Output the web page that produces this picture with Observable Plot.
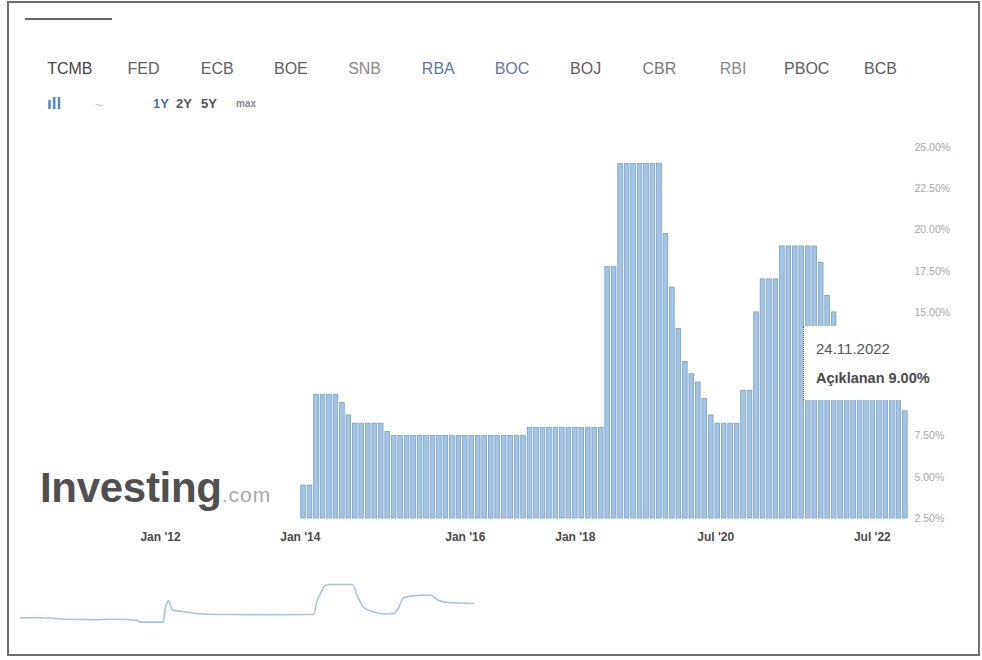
<!DOCTYPE html>
<html>
<head>
<meta charset="utf-8">
<script src="https://cdn.jsdelivr.net/npm/d3@7"></script>
<script src="https://cdn.jsdelivr.net/npm/@observablehq/plot@0.6"></script>
<style>
  body { margin: 0; background: #fff; font-family: "Liberation Sans", Arial, sans-serif; }
  #wrap { position: relative; width: 982px; height: 660px; overflow: hidden; background: #fff; }
  .frame { position: absolute; left: 7px; top: 1px; width: 973px; height: 655px; box-sizing: border-box; border: 2px solid #6e6e6e; }
  .activebar { position: absolute; left: 25px; top: 18px; width: 87px; height: 2px; background: #666; }
  .tabs { position: absolute; left: 33px; top: 60px; display: flex; }
  .tabs span { display: block; width: 73.7px; text-align: center; font-size: 16px; color: #5a5a5a; }
  .row2 { position: absolute; top: 96px; left: 0; height: 20px; }
  .row2 span { position: absolute; white-space: nowrap; font-weight: bold; }
  .logo { position: absolute; left: 40px; top: 464px; white-space: nowrap; }
  .logo .big { font-size: 42px; font-weight: bold; color: #505050; letter-spacing: -0.3px; }
  .logo .small { font-size: 21px; color: #a8a8a8; letter-spacing: 1px; }
  .tip { position: absolute; left: 803px; top: 326px; width: 152px; height: 74px; background: rgba(255,255,255,0.985); border-left: 1px dotted #555; box-sizing: border-box; }
  .tip .d { position: absolute; left: 12px; top: 14px; font-size: 15px; color: #555; }
  .tip .v { position: absolute; left: 12px; top: 44px; font-size: 14.5px; font-weight: bold; color: #4a4a4a; white-space: nowrap; }
  #main { position: absolute; left: 0; top: 130px; }
  #nav { position: absolute; left: 0; top: 560px; }
</style>
</head>
<body>
<div id="wrap">
  <div class="activebar"></div>
  <div class="tabs" id="tabs"></div>
  <div class="row2">
    <span style="left:47px;top:-2px;color:#4f86c6;font-size:17px;">ıll</span>
    <span style="left:95px;color:#c8c8c8;font-size:15px;font-weight:normal;">~</span>
    <span style="left:153px;color:#4a6fa5;font-size:13px;">1Y</span>
    <span style="left:176px;color:#555;font-size:13px;">2Y</span>
    <span style="left:201px;color:#555;font-size:13px;">5Y</span>
    <span style="left:236px;top:2px;color:#888;font-size:10px;">max</span>
  </div>
  <div class="logo"><span class="big">Investing</span><span class="small">.com</span></div>
  <div id="main"></div>
  <div id="nav"></div>
  <div class="tip"><div class="d">24.11.2022</div><div class="v">Açıklanan 9.00%</div></div>
  <div class="frame"></div>
</div>
<script>
// ---- data ----
const bankTabs = ["TCMB","FED","ECB","BOE","SNB","RBA","BOC","BOJ","CBR","RBI","PBOC","BCB"];

// TCMB policy-rate announcements, one bar per announcement (%), in order
const rateValues = [
  4.5, 4.5,
  10, 10, 10, 10, 9.5, 8.75,
  8.25, 8.25, 8.25, 8.25, 8.25, 7.75,
  7.5, 7.5, 7.5, 7.5, 7.5, 7.5, 7.5, 7.5, 7.5, 7.5, 7.5,
  7.5, 7.5, 7.5, 7.5, 7.5, 7.5, 7.5, 7.5, 7.5, 7.5,
  8, 8, 8, 8, 8, 8, 8, 8, 8, 8, 8, 8,
  17.75, 17.75,
  24, 24, 24, 24, 24, 24, 24,
  19.75, 16.5, 14, 12, 11.25, 10.75, 9.75, 8.75,
  8.25, 8.25, 8.25, 8.25,
  10.25, 10.25, 15, 17, 17, 17,
  19, 19, 19, 19, 19, 19,
  18, 16, 15,
  14, 14, 14, 14, 14, 14, 14,
  13, 12, 10.5, 9
];

// x-axis tick labels and their position along the announcement sequence
const xTickLabels = ["Jan '12", "Jan '14", "Jan '16", "Jan '18", "Jul '20", "Jul '22"];
const xTickPos    = [-22.1, -0.5, 25.0, 42.0, 63.7, 87.9];

// y-axis ticks (%)
const yTicks = [2.5, 5, 7.5, 10, 12.5, 15, 17.5, 20, 22.5, 25];
const yBase = 2.5;

// navigator (overview) series
const navYears  = [2010.0, 2010.65, 2011.3, 2012.0, 2012.7, 2013.3, 2013.4, 2014.05, 2014.1, 2014.2, 2014.3, 2014.6, 2015.1, 2016.0, 2017.0, 2018.3, 2018.4, 2018.5, 2018.6, 2018.73, 2019.4, 2019.55, 2019.72, 2020.0, 2020.3, 2020.57, 2020.7, 2020.85, 2021.1, 2021.6, 2021.8, 2022.1, 2022.83];
const navValues = [7.0, 7.0, 6.2, 6.0, 6.2, 5.6, 4.7, 4.7, 12, 16, 11, 10.3, 9.0, 8.7, 8.6, 8.7, 16, 19.8, 23.5, 24.5, 24.5, 18, 12.5, 10, 9.0, 9.2, 12, 17.5, 18.5, 19, 16.5, 15, 14.5];

// ---- tabs ----
const tabsEl = document.getElementById("tabs");
const tabColors = {TCMB: "#444", RBA: "#5b78a6", BOC: "#667a99", SNB: "#8a8a8a", RBI: "#8a8a8a", CBR: "#777"};
bankTabs.forEach(t => {
  const s = document.createElement("span");
  s.textContent = t;
  s.style.color = tabColors[t] || "#5e5e5e";
  tabsEl.appendChild(s);
});

// ---- main chart ----
const rows = rateValues.map((v, i) => ({i, x1: i - 0.5, x2: i + 0.5, v}));
const labelMap = new Map(xTickPos.map((p, k) => [p, xTickLabels[k]]));

const main = Plot.plot({
  width: 982,
  height: 418,
  marginTop: 17,
  marginBottom: 30,
  marginLeft: 30,
  marginRight: 72,
  style: {fontFamily: "Liberation Sans, Arial, sans-serif", background: "transparent"},
  x: {type: "linear", domain: [-42.2, 93.8], label: null},
  y: {type: "linear", domain: [yBase, 25], label: null},
  marks: [
    Plot.rect(rows, {x1: "x1", x2: "x2", y1: yBase, y2: "v", fill: "#a0c5e6", stroke: "#7296bb", strokeWidth: 0.7, insetLeft: 0.9, insetRight: 0.9}),
    Plot.axisX(xTickPos, {anchor: "bottom", label: null, tickSize: 0, tickPadding: 14, tickFormat: d => labelMap.get(d), fontSize: 12, fontWeight: "bold", fill: "#4a4a4a"}),
    Plot.axisY(yTicks, {anchor: "right", label: null, tickSize: 0, tickPadding: 4, tickFormat: d => d3.format(".2f")(d) + "%", fontSize: 10.5, fill: "#a8a8a8"})
  ]
});
document.getElementById("main").appendChild(main);

// ---- navigator ----
const navRows = navYears.map((t, k) => ({t, v: navValues[k]}));
const nav = Plot.plot({
  width: 982,
  height: 80,
  marginTop: 24,
  marginBottom: 18,
  marginLeft: 20,
  marginRight: 509,
  style: {background: "transparent"},
  x: {type: "linear", domain: [2010, 2022.83], axis: null},
  y: {type: "linear", domain: [4.5, 24.5], axis: null},
  marks: [
    Plot.line(navRows, {x: "t", y: "v", stroke: "#a9c3de", strokeWidth: 1.6, curve: "monotone-x"})
  ]
});
document.getElementById("nav").appendChild(nav);
</script>
</body>
</html>
